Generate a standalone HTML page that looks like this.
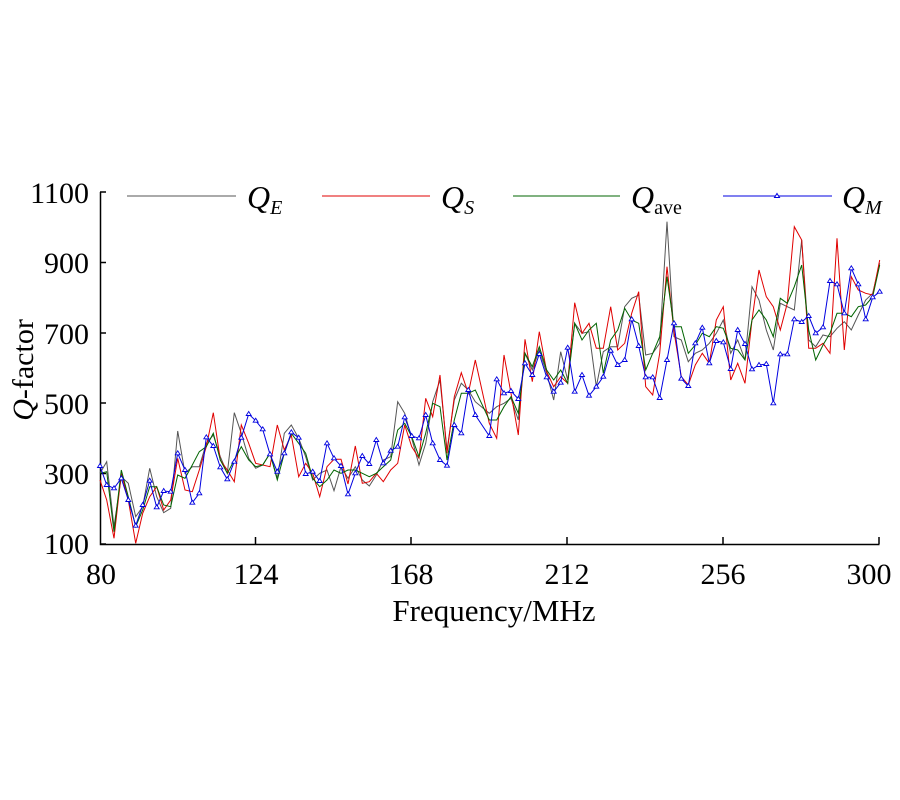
<!DOCTYPE html>
<html><head><meta charset="utf-8"><style>
html,body{margin:0;padding:0;background:#fff;width:900px;height:800px;overflow:hidden}
svg text{font-family:"Liberation Serif",serif}
</style></head><body>
<svg id="s" width="900" height="800" viewBox="0 0 900 800" xmlns="http://www.w3.org/2000/svg">
<rect width="900" height="800" fill="#fff"/>
<g stroke="#000" stroke-width="1.5" fill="none">
<path d="M100.5 192 V544.5 H879.5"/>
<path d="M100 192h6 M100 262.5h6 M100 333h6 M100 403h6 M100 473.5h6 M100 544h6"/>
<path d="M255.5 544v-7 M411 544v-7 M567 544v-7 M723 544v-7 M879 544v-7"/>
</g>
<g font-size="30" text-anchor="end">
<text x="89" y="203">1100</text><text x="89" y="273">900</text><text x="89" y="344">700</text>
<text x="89" y="414">500</text><text x="89" y="484">300</text><text x="89" y="554">100</text>
</g>
<g font-size="30" text-anchor="middle">
<text x="101" y="584">80</text><text x="256" y="584">124</text><text x="411" y="584">168</text>
<text x="567" y="584">212</text><text x="723" y="584">256</text><text x="869" y="584">300</text>
<text x="494" y="621" font-size="31">Frequency/MHz</text>
</g>
<text transform="translate(33,370) rotate(-90)" font-size="30" text-anchor="middle"><tspan font-style="italic">Q</tspan>-factor</text>
<g stroke-width="1">
<line x1="127" y1="196" x2="236" y2="196" stroke="#555"/>
<line x1="322" y1="196" x2="430" y2="196" stroke="#e00000"/>
<line x1="513" y1="196" x2="620" y2="196" stroke="#006400"/>
<line x1="723" y1="196" x2="832" y2="196" stroke="#0000e0"/>
<path d="M777 193.5l2.5 4h-5z" fill="#fff" stroke="#0000e0"/>
</g>
<g font-size="32" font-style="italic">
<text x="247" y="208">Q<tspan font-size="20" dy="6">E</tspan></text>
<text x="441" y="208">Q<tspan font-size="20" dy="6">S</tspan></text>
<text x="631" y="208">Q<tspan font-size="20" dy="6" font-style="normal">ave</tspan></text>
<text x="842" y="208">Q<tspan font-size="20" dy="6">M</tspan></text>
</g>
<g id="series"></g>
</svg>
<script>
var X1=[30,50,72,94,115,137,158,179,200,221,242,263,285,307,328,349,370,391,412,433,454,476,497,518,540,562,583,604,626,647,668,689,711,732,753,774,796,817,838,859,880,902,923,944,965,987,1007,1028,1050,1071,1093,1114,1135,1156];
var X2=[0,28,50,72,93,115,135,157,178,200,221,242,263,284,306,327,349,370,392,413,434,455,476,497,518,539,561,582,604,625,646,667,688,709,730,752,773,795,816,837,859,880,901,922,943,965,986,1007,1029,1050,1071,1093,1114,1135,1157,1178,1199];
var D={
B1:[858,915,925,895,960,1037,975,902,982,933,935,820,870,968,940,772,798,862,898,845,773,702,722,748,823,875,820,757,773,882,875,903,790,835,858,943,880,828,852,780,850,812,800,712,768,775,705,790,840,857,735,760,630,705],
B2:[660,768,598,640,633,657,550,585,522,592,635,608,503,635,585,647,620,590,512,555,540,418,498,592,592,654,540,430,596,618,490,443,550,483,487,567,450,492,568,555,552,670,523,523,418,426,408,460,442,303,313,400,265,313,418,352,335],
R1:[900,960,1075,880,960,1090,1000,950,920,990,960,835,930,935,870,800,698,840,870,905,735,790,850,855,860,735,810,765,890,850,880,950,860,838,838,912,798,910,905,880,905,870,850,735,800,835,655,710,585,820,650,578,640,540],
R2:[730,730,775,525,640,765,478,605,455,575,620,590,610,368,460,430,505,505,380,510,490,400,335,620,645,520,260,455,590,615,555,520,550,420,380,600,550,610,420,270,350,380,450,370,140,180,505,505,490,520,175,510,290,330,340,345,240],
G1:[880,845,1040,890,910,1010,980,865,950,998,985,753,880,860,860,790,765,830,880,698,760,835,865,855,820,895,760,735,775,830,900,880,870,932,860,895,860,900,918,885,840,830,665,700,775,855,790,665,600,810,660,610,630,665],
G2:[650,700,680,670,655,720,520,570,510,580,660,515,600,430,460,455,620,515,500,500,380,355,345,525,520,490,125,470,480,545,520,510,490,460,420,520,480,540,320,360,450,510,370,380,390,180,480,500,465,470,445,425,450,405,360,340,250],
A1:[880,875,1055,870,950,1040,990,920,920,975,980,885,895,855,815,800,760,840,880,840,800,840,860,855,820,900,820,760,790,820,895,920,900,870,880,870,870,880,890,880,860,840,750,730,770,830,760,670,680,840,720,640,640,630],
A2:[630,720,720,680,650,700,520,560,500,570,600,570,610,430,480,450,430,580,480,450,385,420,430,570,520,470,290,440,440,520,495,460,470,440,445,505,510,540,420,390,420,470,355,370,320,255,450,540,495,460,400,400,410,380,375,350,255]};
function pts(a,b){var p=[];for(var i=0;i<X1.length;i++)p.push([90+X1[i]/3,180+a[i]/3]);for(var j=1;j<X2.length;j++)p.push([480+X2[j]/3,180+b[j]/3]);return p;}
var g=document.getElementById('series'),h='';
function line(p,c){return '<polyline fill="none" stroke="'+c+'" stroke-width="1" points="'+p.map(function(q){return q[0].toFixed(1)+','+q[1].toFixed(1)}).join(' ')+'"/>';}
h+=line(pts(D.G1,D.G2),'#555');
h+=line(pts(D.R1,D.R2),'#e00000');
h+=line(pts(D.A1,D.A2),'#006400');
var bp=pts(D.B1,D.B2);h+=line(bp,'#0000e0');
bp.forEach(function(q){h+='<path d="M'+q[0].toFixed(1)+' '+(q[1]-2.5).toFixed(1)+'l2.5 4h-5z" fill="#fff" stroke="#0000e0" stroke-width="0.9"/>';});
g.innerHTML=h;
</script>
</body></html>
